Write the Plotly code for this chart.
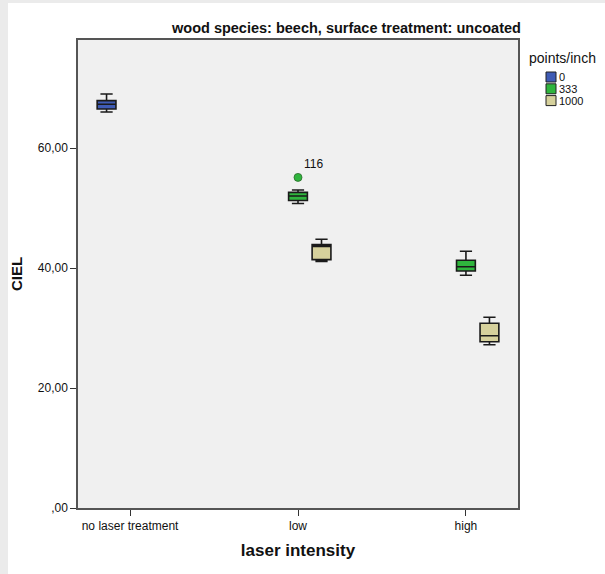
import plotly.graph_objects as go

# Laser intensity categories and resolution groups
categories = ["no laser treatment", "low", "high"]
groups = ["0", "333", "1000"]
group_colors = ["#3f5bb4", "#2fb53d", "#d6d19c"]

# Box statistics per group (one entry per category it appears in)
box_x = {
    "0": ["no laser treatment"],
    "333": ["low", "high"],
    "1000": ["low", "high"],
}
lower_whisker = {"0": [66.0], "333": [50.75, 38.8], "1000": [41.1, 27.2]}
q1_vals = {"0": [66.5], "333": [51.25, 39.5], "1000": [41.4, 27.7]}
median_vals = {"0": [67.3], "333": [52.0, 40.2], "1000": [43.6, 28.7]}
q3_vals = {"0": [67.9], "333": [52.6, 41.3], "1000": [43.9, 30.8]}
upper_whisker = {"0": [69.0], "333": [53.0, 42.8], "1000": [44.8, 31.8]}

# Outlier in the 333 group at low intensity
outlier_x = ["low"]
outlier_y = [55.1]
outlier_label = ["116"]

y_tickvals = [0, 20, 40, 60]
y_ticktext = [",00", "20,00", "40,00", "60,00"]

W, H = 605, 574
L, R, T, B = 78, 87, 40, 66
FONT = "Arial, Liberation Sans"

fig = go.Figure()
for g, col in zip(groups, group_colors):
    fig.add_trace(go.Box(
        name=g,
        x=box_x[g],
        lowerfence=lower_whisker[g],
        q1=q1_vals[g],
        median=median_vals[g],
        q3=q3_vals[g],
        upperfence=upper_whisker[g],
        fillcolor=col,
        line=dict(color="#1a1a1a", width=1.6),
        whiskerwidth=0.65,
        boxpoints=False,
        showlegend=False,
        hoverinfo="skip",
    ))

fig.add_trace(go.Scatter(
    x=outlier_x, y=outlier_y,
    mode="markers+text",
    marker=dict(color=group_colors[1], size=8, line=dict(color="#2a6a2a", width=0.8)),
    text=outlier_label,
    textposition="top right",
    textfont=dict(family=FONT, size=12, color="#111"),
    showlegend=False,
    hoverinfo="skip",
))

pw, ph = W - L - R, H - T - B

shapes = [
    # light grey edge strips around the page
    dict(type="rect", xref="paper", yref="paper",
         x0=-L / pw, x1=(-L + 8) / pw, y0=-B / ph, y1=1 + T / ph,
         fillcolor="#ebebeb", line=dict(width=0), layer="below"),
    dict(type="rect", xref="paper", yref="paper",
         x0=-L / pw, x1=1 + R / pw, y0=1 + (T - 3) / ph, y1=1 + T / ph,
         fillcolor="#ebebeb", line=dict(width=0), layer="below"),
]

annotations = [
    dict(text="<b>wood species: beech, surface treatment: uncoated</b>",
         xref="paper", yref="paper", x=(346 - L) / pw, y=1 + 12 / ph,
         xanchor="center", yanchor="middle", showarrow=False,
         font=dict(family=FONT, size=14.5, color="#111")),
    dict(text="points/inch", xref="paper", yref="paper",
         x=(527 - L) / pw, y=1 - (58 - T) / ph,
         xanchor="left", yanchor="middle", showarrow=False,
         font=dict(family=FONT, size=14, color="#111")),
]

# Legend entries drawn as small swatches with labels
for i, (g, col) in enumerate(zip(groups, group_colors)):
    cy = 77 + i * 11.8
    shapes.append(dict(type="rect", xref="paper", yref="paper",
                       x0=(546 - L) / pw, x1=(556 - L) / pw,
                       y0=1 - (cy + 5 - T) / ph, y1=1 - (cy - 5 - T) / ph,
                       fillcolor=col, line=dict(color="#222", width=1)))
    annotations.append(dict(text=g, xref="paper", yref="paper",
                            x=(557 - L) / pw, y=1 - (cy - T) / ph,
                            xanchor="left", yanchor="middle", showarrow=False,
                            font=dict(family=FONT, size=11, color="#111")))

fig.update_layout(
    width=W, height=H,
    margin=dict(l=L, r=R, t=T, b=B),
    paper_bgcolor="white",
    plot_bgcolor="#f0f0f0",
    boxmode="group",
    boxgap=0.58,
    boxgroupgap=0.2,
    shapes=shapes,
    annotations=annotations,
    font=dict(family=FONT, size=12, color="#111"),
    xaxis=dict(
        type="category",
        categoryorder="array", categoryarray=categories,
        range=[-0.31, 2.31],
        showgrid=False, zeroline=False,
        showline=True, linecolor="#555", linewidth=1.5, mirror=True,
        ticks="outside", ticklen=6, tickcolor="#333",
        tickfont=dict(size=12),
        title=dict(text="<b>laser intensity</b>", font=dict(size=17), standoff=12),
    ),
    yaxis=dict(
        range=[0, 78],
        tickvals=y_tickvals, ticktext=y_ticktext,
        showgrid=False, zeroline=False,
        showline=True, linecolor="#555", linewidth=1.5, mirror=True,
        ticks="outside", ticklen=6, tickcolor="#333",
        tickfont=dict(size=12),
        title=dict(text="<b>CIEL</b>", font=dict(size=15), standoff=12),
    ),
)

fig.write_html("out.html")
